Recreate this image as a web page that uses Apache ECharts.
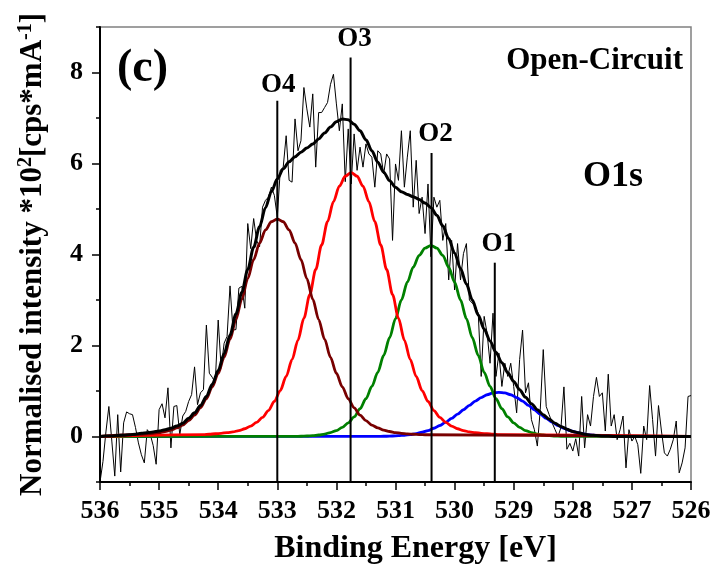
<!DOCTYPE html>
<html>
<head>
<meta charset="utf-8">
<title>O1s XPS spectrum - Open-Circuit</title>
<script src="https://cdn.jsdelivr.net/npm/echarts@6/dist/echarts.min.js"></script>
<style>
  html, body { margin: 0; padding: 0; background: #fff; }
  #chart { width: 715px; height: 565px; }
</style>
</head>
<body>
<div id="chart"></div>
<script>
// Measured O1s spectrum (raw counts), 536.0 eV down to 526.0 eV in 0.05 eV steps
const rawStart = 536.0;
const rawStep = 0.05;
const rawCounts = [
  -1.00, -0.55, 0.10, 0.66, -0.10, -0.87, 0.48, -0.78, 0.30, 0.54,
  0.50, 0.48, 0.20, -0.14, -0.40, -0.58, 0.15, 0.05, -0.20, -0.61,
  0.59, 0.72, 0.41, 1.07, -0.25, 0.66, 0.68, 0.04, 0.45, 0.55,
  0.77, 0.92, 1.53, 0.70, 0.96, 1.03, 2.45, 1.39, 1.30, 1.18,
  2.56, 1.50, 2.05, 2.20, 3.31, 2.34, 2.35, 3.26, 3.30, 2.82,
  4.68, 4.13, 4.79, 4.31, 4.17, 5.04, 5.19, 5.26, 5.48, 5.30,
  4.82, 5.85, 5.92, 6.61, 5.63, 5.59, 6.98, 6.28, 6.50, 7.67,
  7.20, 6.80, 7.53, 5.92, 7.12, 7.12, 7.23, 7.34, 7.74, 7.96,
  7.31, 6.72, 7.31, 5.60, 6.76, 5.55, 6.65, 5.85, 6.36, 5.92,
  6.43, 6.21, 6.14, 5.48, 6.28, 6.21, 5.77, 6.21, 6.10, 4.31,
  5.99, 5.63, 6.72, 5.48, 6.14, 6.72, 5.04, 6.07, 4.90, 5.26,
  4.46, 5.55, 3.95, 5.26, 5.04, 5.19, 4.31, 4.68, 3.44, 4.31,
  3.22, 4.24, 3.44, 4.02, 4.24, 3.00, 2.93, 2.85, 2.71, 1.32,
  2.64, 2.27, 1.61, 2.71, 1.32, 1.83, 1.10, 1.61, 1.32, 1.61,
  1.10, 0.52, 1.69, 2.34, 0.96, 1.18, 0.37, 0.15, -0.21, 0.60,
  1.91, 0.66, 0.48, 0.30, 0.15, 0.00, 0.20, 1.09, -0.28, -0.15,
  -0.32, -0.05, -0.43, 0.88, -0.25, 0.48, 0.23, 0.88, 1.30, 0.88,
  0.96, 0.12, 1.37, 0.23, 0.48, -0.07, 0.15, 0.45, -0.69, 0.15,
  -0.10, 0.00, -0.18, -0.81, 0.23, -0.07, 1.12, 0.37, -0.43, 0.68,
  0.12, -0.36, -0.43, -0.28, -0.07, 0.34, -0.80, -0.58, -0.25, 0.88,
  0.90
];

// Fitted envelope, 536.0 eV down to 526.0 eV in 0.1 eV steps
const envStart = 536.0;
const fitStep = 0.1;
const envelope = [
  0.00, 0.01, 0.01, 0.02, 0.03, 0.04, 0.05, 0.07, 0.08, 0.10,
  0.12, 0.15, 0.18, 0.23, 0.29, 0.40, 0.52, 0.68, 0.88, 1.15,
  1.45, 1.82, 2.23, 2.69, 3.17, 3.67, 4.16, 4.61, 5.03, 5.38,
  5.66, 5.88, 6.04, 6.15, 6.25, 6.34, 6.43, 6.54, 6.67, 6.80,
  6.92, 6.98, 6.96, 6.86, 6.72, 6.52, 6.28, 6.03, 5.81, 5.62,
  5.48, 5.38, 5.32, 5.27, 5.21, 5.13, 5.03, 4.86, 4.63, 4.35,
  4.03, 3.69, 3.35, 3.00, 2.67, 2.36, 2.10, 1.85, 1.62, 1.40,
  1.21, 1.03, 0.86, 0.72, 0.59, 0.48, 0.38, 0.29, 0.22, 0.16,
  0.11, 0.08, 0.05, 0.03, 0.02, 0.01, 0.01, 0.00, 0.00, 0.00,
  0.00, 0.00, 0.00, 0.00, 0.00, 0.00, 0.00, 0.00, 0.00, 0.00,
  0.00
];

// Fitted components (0.1 eV steps from the given start energy, decreasing)
const o4Start = 535.5;
const o4Fit = [
  0.038, 0.043, 0.050, 0.057, 0.070, 0.086, 0.11, 0.14, 0.19, 0.25,
  0.35, 0.47, 0.63, 0.83, 1.09, 1.39, 1.74, 2.14, 2.57, 3.02,
  3.47, 3.89, 4.25, 4.54, 4.72, 4.78, 4.72, 4.54, 4.25, 3.89,
  3.47, 3.02, 2.57, 2.14, 1.74, 1.39, 1.09, 0.83, 0.63, 0.47,
  0.35, 0.25, 0.19, 0.14, 0.11, 0.086, 0.070, 0.057, 0.050, 0.043,
  0.038
];
const o3Start = 534.25;
const o3Fit = [
  0.04, 0.05, 0.06, 0.07, 0.085, 0.10, 0.13, 0.17, 0.23, 0.31,
  0.42, 0.57, 0.77, 1.01, 1.32, 1.69, 2.12, 2.60, 3.12, 3.67,
  4.21, 4.72, 5.16, 5.50, 5.72, 5.80, 5.72, 5.50, 5.16, 4.72,
  4.21, 3.67, 3.12, 2.60, 2.12, 1.69, 1.32, 1.01, 0.77, 0.57,
  0.42, 0.31, 0.23, 0.17, 0.13, 0.10, 0.085, 0.07, 0.06, 0.05,
  0.04
];
const o2Start = 532.8;
const o2Fit = [
  0.002, 0.003, 0.006, 0.011, 0.019, 0.033, 0.054, 0.087, 0.13, 0.20,
  0.30, 0.43, 0.61, 0.83, 1.10, 1.41, 1.78, 2.17, 2.59, 3.00,
  3.39, 3.72, 3.98, 4.14, 4.20, 4.14, 3.98, 3.72, 3.39, 3.00,
  2.59, 2.17, 1.78, 1.41, 1.10, 0.83, 0.61, 0.43, 0.30, 0.20,
  0.13, 0.087, 0.054, 0.033, 0.019, 0.011, 0.006, 0.003, 0.002
];
const o1Start = 531.45;
const o1Fit = [
  0.001, 0.002, 0.004, 0.006, 0.011, 0.018, 0.028, 0.043, 0.064, 0.093,
  0.131, 0.181, 0.242, 0.315, 0.399, 0.491, 0.588, 0.685, 0.777, 0.856,
  0.918, 0.957, 0.970, 0.957, 0.918, 0.856, 0.777, 0.685, 0.588, 0.491,
  0.399, 0.315, 0.242, 0.181, 0.131, 0.093, 0.064, 0.043, 0.028, 0.018,
  0.011, 0.006, 0.004, 0.002, 0.001
];

// Peak markers
const peakNames = ['O4', 'O3', 'O2', 'O1'];
const peakEnergy = [533.0, 531.76, 530.39, 529.32];
const peakMarkTop = [7.38, 8.33, 6.23, 3.82];

// Axis ranges and labelled ticks
const xMin = 526, xMax = 536;
const yMin = -1, yMax = 9;
const yMajorTicks = [0, 2, 4, 6, 8];
const yMinorTicks = [-1, 1, 3, 5, 7, 9];

const FONT = "'Liberation Serif', 'Times New Roman', serif";

function toSeries(start, step, values) {
  return values.map((v, i) => [+(start - i * step).toFixed(3), v]);
}
function withBaseline(points) {
  return [[xMax, 0]].concat(points, [[xMin, 0]]);
}

const colours = { O4: '#780000', O3: '#ff0000', O2: '#008000', O1: '#0000ff' };

const chart = echarts.init(document.getElementById('chart'), null, { renderer: 'canvas' });

const componentSeries = [
  ['O1', o1Start, o1Fit],
  ['O2', o2Start, o2Fit],
  ['O3', o3Start, o3Fit],
  ['O4', o4Start, o4Fit]
].map(([name, start, vals]) => ({
  name: name,
  type: 'line',
  data: withBaseline(toSeries(start, fitStep, vals)),
  showSymbol: false,
  smooth: 0.3,
  smoothMonotone: 'x',
  lineStyle: { color: colours[name], width: 2.8 },
  z: 3
}));

const markerSeries = peakNames.map((name, k) => ({
  name: name + ' position',
  type: 'line',
  data: [[peakEnergy[k], yMin], [peakEnergy[k], peakMarkTop[k]]],
  showSymbol: false,
  lineStyle: { color: '#000', width: 2 },
  z: 5
}));

// label shift (px) relative to the top of each marker line
const labelShift = [[1, -2], [4, -5], [4, -6], [4, -5]];

const option = {
  animation: false,
  backgroundColor: '#fff',
  grid: {
    left: 100, right: 24, top: 27, bottom: 83,
    outerBoundsMode: 'none',
    containLabel: false,
    show: true, borderColor: '#808080', borderWidth: 1.5
  },
  xAxis: {
    type: 'value',
    min: xMin, max: xMax, interval: 1,
    inverse: true,
    axisLine: { show: true, onZero: false, lineStyle: { color: '#000', width: 2 } },
    axisTick: { show: true, length: 8, lineStyle: { color: '#000', width: 1.5 } },
    minorTick: { show: true, splitNumber: 2, length: 4, lineStyle: { color: '#000', width: 1.5 } },
    splitLine: { show: false },
    minorSplitLine: { show: false },
    axisLabel: { fontFamily: FONT, fontWeight: 'bold', fontSize: 26, color: '#000', margin: 16 },
    name: 'Binding Energy [eV]',
    nameLocation: 'middle',
    nameGap: 51,
    nameTextStyle: { fontFamily: FONT, fontWeight: 'bold', fontSize: 32, color: '#000', padding: [0, 0, 0, 40] }
  },
  yAxis: [
    {
      type: 'value',
      min: yMin, max: yMax, interval: 1,
      axisLine: { show: true, onZero: false, lineStyle: { color: '#000', width: 2 } },
      axisTick: { show: true, customValues: yMajorTicks, length: 8, lineStyle: { color: '#000', width: 1.5 } },
      splitLine: { show: false },
      axisLabel: { show: false },
      name: 'Normalised intensity *10{s|2}[cps*mA{s|-1}]',
      nameLocation: 'middle',
      nameRotate: 90,
      nameGap: 50,
      nameTextStyle: {
        fontFamily: FONT, fontWeight: 'bold', fontSize: 31, color: '#000', lineHeight: 34,
        rich: {
          s: { fontFamily: FONT, fontWeight: 'bold', fontSize: 20, color: '#000', verticalAlign: 'top', lineHeight: 34, padding: [0, 0, 14, 0] }
        }
      }
    },
    {
      type: 'value',
      min: yMin, max: yMax, interval: 1,
      position: 'left',
      axisLine: { show: false, onZero: false },
      axisTick: { show: true, customValues: yMinorTicks, length: 4, lineStyle: { color: '#000', width: 1.5 } },
      axisLabel: { show: false },
      splitLine: { show: false }
    }
  ],
  graphic: [
    {
      id: 'panel', type: 'text', x: 117, y: 69,
      style: { text: '(c)', fontFamily: FONT, fontWeight: 'bold', fontSize: 46, fill: '#000',
               textAlign: 'left', textVerticalAlign: 'middle', align: 'left', verticalAlign: 'middle' }
    },
    {
      id: 'condition', type: 'text', x: 683, y: 61,
      style: { text: 'Open-Circuit', fontFamily: FONT, fontWeight: 'bold', fontSize: 31, fill: '#000',
               textAlign: 'right', textVerticalAlign: 'middle', align: 'right', verticalAlign: 'middle' }
    },
    {
      id: 'region', type: 'text', x: 613, y: 177,
      style: { text: 'O1s', fontFamily: FONT, fontWeight: 'bold', fontSize: 36, fill: '#000',
               textAlign: 'center', textVerticalAlign: 'middle', align: 'center', verticalAlign: 'middle' }
    }
  ],
  series: [
    {
      name: 'Measured',
      type: 'line',
      data: toSeries(rawStart, rawStep, rawCounts),
      showSymbol: false,
      lineStyle: { color: '#000', width: 1 },
      z: 2
    }
  ].concat(componentSeries, [
    {
      name: 'Envelope',
      type: 'line',
      data: toSeries(envStart, fitStep, envelope),
      showSymbol: false,
      smooth: 0.3,
      smoothMonotone: 'x',
      lineStyle: { color: '#000', width: 3 },
      z: 4
    }
  ], markerSeries)
};

chart.setOption(option);

// Peak names above each marker line, placed through the axis scales
const peakLabels = peakNames.map((n, k) => {
  const p = chart.convertToPixel({ gridIndex: 0 }, [peakEnergy[k], peakMarkTop[k]]);
  return {
    id: 'peak-' + n, type: 'text',
    x: p[0] + labelShift[k][0], y: p[1] + labelShift[k][1],
    z: 10,
    style: { text: n, fontFamily: FONT, fontWeight: 'bold', fontSize: 27, fill: '#000',
             textAlign: 'center', textVerticalAlign: 'bottom', align: 'center', verticalAlign: 'bottom' }
  };
});

// Intensity tick labels, right-aligned a fixed gap left of the y axis
const axisLeft = chart.convertToPixel({ gridIndex: 0 }, [xMax, 0])[0];
const yTickLabels = yMajorTicks.map(v => ({
  id: 'ytick-' + v, type: 'text',
  x: axisLeft - 17,
  y: chart.convertToPixel({ yAxisIndex: 0 }, v),
  style: { text: String(v), fontFamily: FONT, fontWeight: 'bold', fontSize: 26, fill: '#000',
           textAlign: 'right', textVerticalAlign: 'middle', align: 'right', verticalAlign: 'middle' }
}));

chart.setOption({ graphic: peakLabels.concat(yTickLabels) });
</script>
</body>
</html>
